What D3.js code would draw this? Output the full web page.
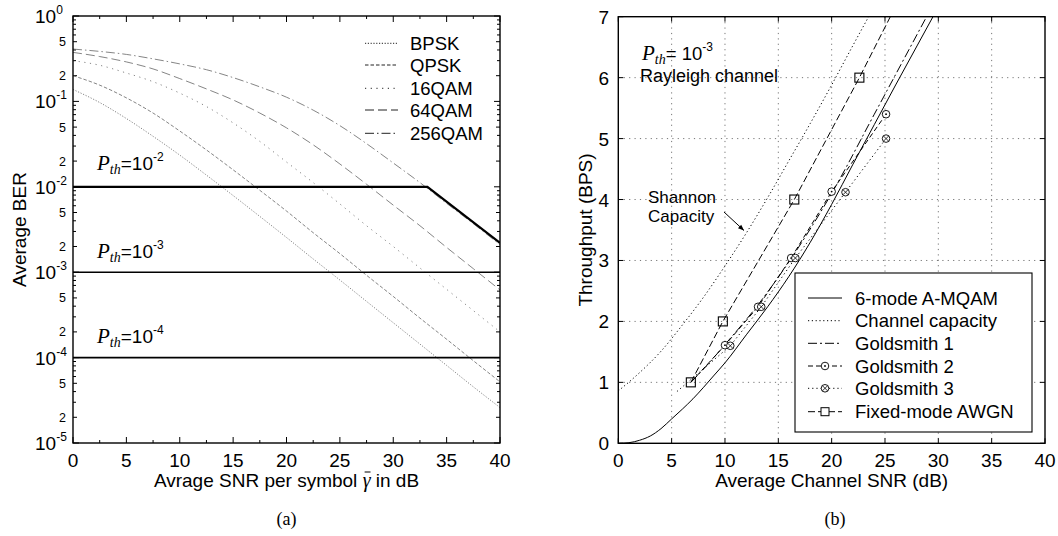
<!DOCTYPE html>
<html><head><meta charset="utf-8">
<script src="https://cdn.jsdelivr.net/npm/d3@7"></script>
<style>
body{margin:0;background:#fff}
svg{display:block}
text{font-family:"Liberation Sans",Arial,Helvetica,sans-serif;fill:#000}
.serif{font-family:"Liberation Serif","Times New Roman",serif}
</style>
</head><body>
<svg id="c" width="1058" height="536"></svg>
<script>
// ---------- Panel (a) data ----------
const snrA = [0,2.5,5,7.5,10,12.5,15,17.5,20,22.5,25,27.5,30,32.5,35,37.5,40];
const berBPSK   = [0.138,0.097,0.063,0.039,0.0235,0.0137,0.0079,0.0045,0.00255,0.00143,8.1e-4,4.55e-4,2.56e-4,1.44e-4,8.1e-5,4.55e-5,2.6e-5];
const berQPSK   = [0.20,0.155,0.11,0.073,0.045,0.027,0.0158,0.0091,0.0052,0.0029,0.00165,9.2e-4,5.2e-4,2.9e-4,1.64e-4,9.2e-5,5.2e-5];
const ber16QAM  = [0.30,0.265,0.215,0.17,0.125,0.087,0.056,0.034,0.0195,0.0112,0.0063,0.0035,0.002,0.00112,6.3e-4,3.55e-4,2.0e-4];
const ber64QAM  = [0.375,0.335,0.29,0.24,0.185,0.14,0.104,0.073,0.049,0.031,0.0185,0.0107,0.0061,0.0035,0.00195,0.0011,6.2e-4];
const ber256QAM = [0.41,0.385,0.355,0.315,0.275,0.235,0.19,0.148,0.112,0.079,0.052,0.032,0.019,0.0112,0.0064,0.0037,0.0021];
const modNames  = ["BPSK","QPSK","16QAM","64QAM","256QAM"];
const pth2X = [0,33.2,40];
const pth2Y = [1e-2,1e-2,2.2e-3];
const pthLevels = [1e-3,1e-4];
const xTicksA = [0,5,10,15,20,25,30,35,40];
const decadeExps = [0,-1,-2,-3,-4,-5];

// ---------- Panel (b) data ----------
const capX = [0,2,4,6,8,10,12,14,16,18,20,22,24];
const capY = [0.86,1.16,1.51,1.94,2.40,2.91,3.45,4.03,4.64,5.25,5.88,6.53,7.17];
const amqX = [0,1,2,3,4,5,6,7,8,9,10,12,14,16,18,20,22,24,26,28,29.5];
const amqY = [0,0.01,0.05,0.12,0.24,0.40,0.56,0.73,0.92,1.12,1.32,1.78,2.24,2.74,3.30,3.92,4.58,5.23,5.88,6.52,7.0];
const gs1X = [6.8,8,10,13,16,20,24,28.9];
const gs1Y = [1.0,1.22,1.62,2.25,2.98,4.1,5.4,7.0];
const gs2X = [6.8,10,13.1,16.2,20,25.1];
const gs2Y = [1.0,1.61,2.24,3.04,4.13,5.4];
const gs3X = [5.5,10.5,13.4,16.6,21.3,25.1];
const gs3Y = [0.85,1.6,2.24,3.04,4.12,5.0];
const awgnX = [6.8,9.8,16.5,22.6,25.5];
const awgnY = [1.0,2.0,4.0,6.0,7.0];
const legendB = ["6-mode A-MQAM","Channel capacity","Goldsmith 1","Goldsmith 2","Goldsmith 3","Fixed-mode AWGN"];
const xTicksB = [0,5,10,15,20,25,30,35,40];
const yTicksB = [0,1,2,3,4,5,6,7];

const svg = d3.select("#c");

// ================= Panel (a) =================
const A = {l:73, r:500, t:16, b:443};
const xA = d3.scaleLinear().domain([0,40]).range([A.l,A.r]);
const yA = d3.scaleLog().domain([1e-5,1]).range([A.b,A.t]);

svg.append("clipPath").attr("id","clipA").append("rect")
  .attr("x",A.l).attr("y",A.t).attr("width",A.r-A.l).attr("height",A.b-A.t);

const gA = svg.append("g");
const tickA = gA.append("g").attr("stroke","#000").attr("stroke-width",1);
for (let v=0; v<=40; v+=2.5) {
  const major = (v%5===0), len = major?6:3, x = xA(v);
  tickA.append("line").attr("x1",x).attr("x2",x).attr("y1",A.b).attr("y2",A.b-len);
  tickA.append("line").attr("x1",x).attr("x2",x).attr("y1",A.t).attr("y2",A.t+len);
}
for (let e=0; e>=-5; e--) {
  const y = yA(Math.pow(10,e));
  tickA.append("line").attr("x1",A.l).attr("x2",A.l+6).attr("y1",y).attr("y2",y);
  tickA.append("line").attr("x1",A.r).attr("x2",A.r-6).attr("y1",y).attr("y2",y);
  if (e>-5) {
    for (let m=2;m<=9;m++){
      const yy = yA(m*Math.pow(10,e-1));
      const len = (m===2||m===5)?4:3;
      tickA.append("line").attr("x1",A.l).attr("x2",A.l+len).attr("y1",yy).attr("y2",yy);
      tickA.append("line").attr("x1",A.r).attr("x2",A.r-len).attr("y1",yy).attr("y2",yy);
    }
  }
}
xTicksA.forEach(v=>{
  gA.append("text").attr("x",xA(v)).attr("y",467).attr("text-anchor","middle")
    .style("font-size","19px").text(v);
});
decadeExps.forEach(e=>{
  const y = yA(Math.pow(10,e));
  const t = gA.append("text").attr("x",35).attr("y",y+7).style("font-size","19px");
  t.append("tspan").text("10");
  t.append("tspan").attr("dy",-9).style("font-size","12px").text(String(e));
  if (e>-5) {
    [5,2].forEach(m=>{
      gA.append("text").attr("x",66).attr("y",yA(m*Math.pow(10,e-1))+4.5)
        .attr("text-anchor","end").style("font-size","12.5px").text(m);
    });
  }
});

// curves
const seriesA = [berBPSK,berQPSK,ber16QAM,ber64QAM,ber256QAM];
const dashA = ["1.2,1.6","3.5,2","1.2,4.5","9,4","9,3,1.5,3"];
const lineA = d3.line().x(d=>xA(d[0])).y(d=>yA(d[1])).curve(d3.curveMonotoneX);
const cg = gA.append("g").attr("clip-path","url(#clipA)");
seriesA.forEach((s,i)=>{
  cg.append("path").datum(snrA.map((x,j)=>[x,s[j]]))
    .attr("d",lineA).attr("fill","none").attr("stroke","#666")
    .attr("stroke-width",0.8).attr("stroke-dasharray",dashA[i]);
});
cg.append("path").datum(pth2X.map((x,j)=>[x,pth2Y[j]]))
  .attr("d",d3.line().x(d=>xA(d[0])).y(d=>yA(d[1])))
  .attr("fill","none").attr("stroke","#000").attr("stroke-width",2.2);
pthLevels.forEach(p=>{
  cg.append("line").attr("x1",xA(0)).attr("x2",xA(40)).attr("y1",yA(p)).attr("y2",yA(p))
    .attr("stroke","#000").attr("stroke-width",1.6);
});
gA.append("rect").attr("x",A.l).attr("y",A.t).attr("width",A.r-A.l).attr("height",A.b-A.t)
  .attr("fill","none").attr("stroke","#000").attr("stroke-width",1.4);

[[170,"-2"],[258,"-3"],[343,"-4"]].forEach(([yb,ex])=>{
  const t = gA.append("text").attr("x",97).attr("y",yb).style("font-size","19px");
  t.append("tspan").attr("class","serif").style("font-style","italic").style("font-size","21px").text("P");
  t.append("tspan").attr("class","serif").style("font-style","italic").style("font-size","14px").attr("dy",4).text("th");
  t.append("tspan").attr("dy",-4).text("=10");
  t.append("tspan").attr("dy",-9).style("font-size","12px").text(ex);
});

const legY = [43.3,65,88.3,110,133.3];
modNames.forEach((n,i)=>{
  gA.append("line").attr("x1",365).attr("x2",398).attr("y1",legY[i]).attr("y2",legY[i])
    .attr("stroke","#222").attr("stroke-width",1).attr("stroke-dasharray",dashA[i]);
  gA.append("text").attr("x",410).attr("y",legY[i]+6.5).style("font-size","18.5px").text(n);
});

gA.append("text").attr("transform",`translate(26,${(A.t+A.b)/2}) rotate(-90)`)
  .attr("text-anchor","middle").style("font-size","19px").text("Average BER");
const xl = gA.append("text").attr("x",(A.l+A.r)/2).attr("y",487).attr("text-anchor","middle").style("font-size","19px");
const pre = "Avrage SNR per symbol ";
xl.append("tspan").text(pre);
xl.append("tspan").attr("class","serif").style("font-style","italic").style("font-size","20px").text("\u03B3");
xl.append("tspan").text("   in dB");
{
  const ext = xl.node().getExtentOfChar(pre.length);
  gA.append("line").attr("x1",ext.x+2).attr("x2",ext.x+ext.width).attr("y1",472).attr("y2",472)
    .attr("stroke","#000").attr("stroke-width",1);
}
svg.append("text").attr("class","serif").attr("x",(A.l+A.r)/2).attr("y",525)
  .attr("text-anchor","middle").style("font-size","18px").text("(a)");

// ================= Panel (b) =================
const B = {l:618.3, r:1045, t:16.7, b:443.3};
const xB = d3.scaleLinear().domain([0,40]).range([B.l,B.r]);
const yB = d3.scaleLinear().domain([0,7]).range([B.b,B.t]);
svg.append("clipPath").attr("id","clipB").append("rect")
  .attr("x",B.l).attr("y",B.t).attr("width",B.r-B.l).attr("height",B.b-B.t);
const gB = svg.append("g");

const grid = gB.append("g").attr("stroke","#777").attr("stroke-width",1).attr("stroke-dasharray","1.2,4.2");
xTicksB.slice(1,-1).forEach(v=>grid.append("line").attr("x1",xB(v)).attr("x2",xB(v)).attr("y1",B.t).attr("y2",B.b));
yTicksB.slice(1,-1).forEach(v=>grid.append("line").attr("x1",B.l).attr("x2",B.r).attr("y1",yB(v)).attr("y2",yB(v)));
const tickB = gB.append("g").attr("stroke","#000").attr("stroke-width",1);
xTicksB.forEach(v=>{
  tickB.append("line").attr("x1",xB(v)).attr("x2",xB(v)).attr("y1",B.b).attr("y2",B.b-5);
  tickB.append("line").attr("x1",xB(v)).attr("x2",xB(v)).attr("y1",B.t).attr("y2",B.t+5);
});
yTicksB.forEach(v=>{
  tickB.append("line").attr("x1",B.l).attr("x2",B.l+5).attr("y1",yB(v)).attr("y2",yB(v));
  tickB.append("line").attr("x1",B.r).attr("x2",B.r-5).attr("y1",yB(v)).attr("y2",yB(v));
});
xTicksB.forEach(v=>{
  gB.append("text").attr("x",xB(v)).attr("y",467).attr("text-anchor","middle").style("font-size","19px").text(v);
});
yTicksB.forEach(v=>{
  gB.append("text").attr("x",609).attr("y",yB(v)+7).attr("text-anchor","end").style("font-size","19px").text(v);
});

const lineB = d3.line().x(d=>xB(d[0])).y(d=>yB(d[1]));
const cb = gB.append("g").attr("clip-path","url(#clipB)");
const styleB = [
  {x:amqX,y:amqY,dash:null,curve:d3.curveMonotoneX},
  {x:capX,y:capY,dash:"1.2,2.6",curve:d3.curveMonotoneX},
  {x:gs1X,y:gs1Y,dash:"9,3,2,3",curve:d3.curveMonotoneX},
  {x:gs2X,y:gs2Y,dash:"5,3",curve:d3.curveLinear},
  {x:gs3X,y:gs3Y,dash:"1.2,3",curve:d3.curveLinear},
  {x:awgnX,y:awgnY,dash:"7,3",curve:d3.curveLinear}
];
styleB.forEach(s=>{
  cb.append("path").datum(s.x.map((x,j)=>[x,s.y[j]]))
    .attr("d",lineB.curve(s.curve)).attr("fill","none").attr("stroke","#000")
    .attr("stroke-width",1).attr("stroke-dasharray",s.dash);
});
function mCircleDot(g,x,y){
  g.append("circle").attr("cx",x).attr("cy",y).attr("r",3.8).attr("fill","#fff").attr("stroke","#000").attr("stroke-width",0.9);
  g.append("circle").attr("cx",x).attr("cy",y).attr("r",0.9).attr("fill","#000");
}
function mCircleX(g,x,y){
  g.append("circle").attr("cx",x).attr("cy",y).attr("r",3.8).attr("fill","#fff").attr("stroke","#000").attr("stroke-width",0.9);
  const d=2.6;
  g.append("path").attr("d",`M${x-d},${y-d}L${x+d},${y+d}M${x-d},${y+d}L${x+d},${y-d}`).attr("stroke","#000").attr("stroke-width",0.8);
}
function mSquare(g,x,y){
  g.append("rect").attr("x",x-4.5).attr("y",y-4.5).attr("width",9).attr("height",9)
    .attr("fill","none").attr("stroke","#000").attr("stroke-width",1.1);
}
const mk = gB.append("g");
gs2X.slice(1).forEach((x,j)=>mCircleDot(mk,xB(x),yB(gs2Y[j+1])));
gs3X.slice(1).forEach((x,j)=>mCircleX(mk,xB(x),yB(gs3Y[j+1])));
awgnX.slice(0,4).forEach((x,j)=>mSquare(mk,xB(x),yB(awgnY[j])));

gB.append("rect").attr("x",B.l).attr("y",B.t).attr("width",B.r-B.l).attr("height",B.b-B.t)
  .attr("fill","none").attr("stroke","#000").attr("stroke-width",1.4);

const pt = gB.append("text").attr("x",642).attr("y",60).style("font-size","18.5px");
pt.append("tspan").attr("class","serif").style("font-style","italic").style("font-size","21px").text("P");
pt.append("tspan").attr("class","serif").style("font-style","italic").style("font-size","14px").attr("dy",4).text("th");
pt.append("tspan").attr("dy",-4).text("= 10");
pt.append("tspan").attr("dy",-9).style("font-size","12px").text("-3");
gB.append("text").attr("x",640).attr("y",81.7).style("font-size","18px").text("Rayleigh channel");
gB.append("text").attr("x",648).attr("y",202.5).style("font-size","17px").text("Shannon");
gB.append("text").attr("x",648).attr("y",222).style("font-size","17px").text("Capacity");
const ax1=724, ay1=212, ax2=744, ay2=230.5;
gB.append("line").attr("x1",ax1).attr("y1",ay1).attr("x2",ax2).attr("y2",ay2).attr("stroke","#000").attr("stroke-width",1);
{
  const ang = Math.atan2(ay2-ay1, ax2-ax1), L=6, W=2.4;
  const bx = ax2 - L*Math.cos(ang), by = ay2 - L*Math.sin(ang);
  const px = -Math.sin(ang)*W, py = Math.cos(ang)*W;
  gB.append("path").attr("d",`M${ax2},${ay2}L${bx+px},${by+py}L${bx-px},${by-py}Z`).attr("fill","#000");
}

const lg = gB.append("g");
lg.append("rect").attr("x",795).attr("y",273).attr("width",237).attr("height",159)
  .attr("fill","#fff").attr("stroke","#000").attr("stroke-width",1.1);
const legYB = [298,320.7,343.3,366,388.3,411.7];
legendB.forEach((n,i)=>{
  const y = legYB[i];
  lg.append("line").attr("x1",808).attr("x2",842).attr("y1",y).attr("y2",y)
    .attr("stroke","#000").attr("stroke-width",1).attr("stroke-dasharray",styleB[i].dash);
  if (i===3) mCircleDot(lg,825,y);
  if (i===4) mCircleX(lg,825,y);
  if (i===5) { lg.append("rect").attr("x",821).attr("y",y-4).attr("width",8).attr("height",8).attr("fill","#fff").attr("stroke","#000"); }
  lg.append("text").attr("x",855).attr("y",y+6.5).style("font-size","18.5px").text(n);
});

gB.append("text").attr("transform",`translate(592,${(B.t+B.b)/2}) rotate(-90)`)
  .attr("text-anchor","middle").style("font-size","19px").text("Throughput (BPS)");
gB.append("text").attr("x",(B.l+B.r)/2).attr("y",487).attr("text-anchor","middle")
  .style("font-size","19px").text("Average Channel SNR (dB)");
svg.append("text").attr("class","serif").attr("x",835).attr("y",525)
  .attr("text-anchor","middle").style("font-size","18px").text("(b)");
</script>
</body></html>
